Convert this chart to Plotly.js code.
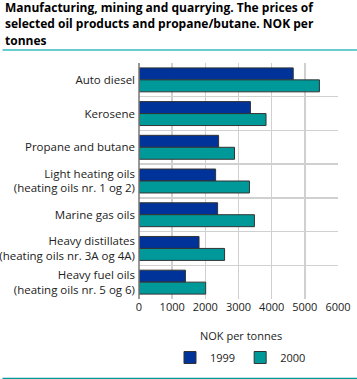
<!DOCTYPE html>
<html><head><meta charset="utf-8">
<script src="https://cdn.plot.ly/plotly-3.0.1.min.js"></script>
<style>html,body{margin:0;padding:0;background:#fff}</style>
</head><body><div id="chart" style="width:357px;height:379px"></div>
<script>
const categories = ["Auto diesel","Kerosene","Propane and butane","Light heating oils<br>(heating oils nr. 1 og 2)","Marine gas oils","Heavy distillates<br>(heating oils nr. 3A og 4A)","Heavy fuel oils<br>(heating oils nr. 5 og 6)"];
const values1999 = [4650, 3360, 2400, 2310, 2370, 1810, 1400];
const values2000 = [5440, 3830, 2880, 3330, 3480, 2580, 2010];
const seriesNames = ["1999","2000"];
const tickValues = [0,1000,2000,3000,4000,5000,6000];
const titleLines = ['Manufacturing, mining and quarrying. The prices of','selected oil products and propane/butane. NOK per','tonnes'];
const axisTitle = 'NOK per tonnes';

const L = 138.7, R = 338, T = 63, B = 298.7, W = 357, H = 379;
const pw = R - L, ph = B - T;
const px = x => (x - L) / pw;
const py = y => (B - y) / ph;
const FONT = '"Open Sans", "Noto Sans", sans-serif';
const titleY = [7.5, 24, 40.5];

const traces = [
  {type:'bar', orientation:'h', name:seriesNames[0], y:categories, x:values1999,
   marker:{color:'#003399', line:{color:'#333333', width:1}}},
  {type:'bar', orientation:'h', name:seriesNames[1], y:categories, x:values2000,
   marker:{color:'#009999', line:{color:'#333333', width:1}}}
];
const annotations = titleLines.map((t, i) => ({
  text:t, xref:'paper', yref:'paper', x:px(2), y:py(titleY[i]), xanchor:'left', yanchor:'middle', align:'left', showarrow:false,
  font:{family:FONT, size:12, color:'#000', weight:'bold'}
}));
annotations.push({text:axisTitle, xref:'paper', yref:'paper', x:px(241), y:py(335), xanchor:'center', yanchor:'middle', showarrow:false,
  font:{family:FONT, size:11, color:'#222'}});

const layout = {
  width:W, height:H,
  margin:{l:L, r:W-R, t:T, b:H-B, autoexpand:false},
  paper_bgcolor:'#fff', plot_bgcolor:'#fff',
  font:{family:FONT, size:11, color:'#222'},
  barmode:'group', bargap:0.29, bargroupgap:0,
  xaxis:{range:[0,6000], tickvals:tickValues, ticktext:tickValues.map(String), showgrid:true, gridcolor:'#d0d0d0', gridwidth:1.5,
    zeroline:false, showline:false, ticks:'', tickfont:{size:11, color:'#222'}, automargin:false, fixedrange:true},
  yaxis:{autorange:'reversed', type:'category', tickson:'boundaries', showgrid:true, gridcolor:'#d0d0d0', gridwidth:1.5,
    showline:false, ticks:'', ticklen:0, ticklabelstandoff:3, tickfont:{size:11.5, color:'#222'}, zeroline:false, automargin:false},
  legend:{orientation:'h', x:0.51, xanchor:'center', xref:'paper', y:(H-343)/H, yref:'container', yanchor:'top',
    font:{size:11, color:'#222'}, traceorder:'normal', itemwidth:30, tracegroupgap:0},
  annotations:annotations,
  shapes:[
    {type:'line', xref:'paper', yref:'paper', x0:px(2), x1:px(357), y0:py(50), y1:py(50), line:{color:'#66cccc', width:2}},
    {type:'line', xref:'paper', yref:'paper', x0:px(2), x1:px(357), y0:py(378), y1:py(378), line:{color:'#009999', width:1.5}},
    {type:'line', xref:'paper', yref:'paper', x0:0, x1:0, y0:0, y1:1, line:{color:'#777777', width:1.5}}
  ],
  showlegend:true
};
Plotly.newPlot('chart', traces, layout, {displayModeBar:false, staticPlot:true});
</script></body></html>
